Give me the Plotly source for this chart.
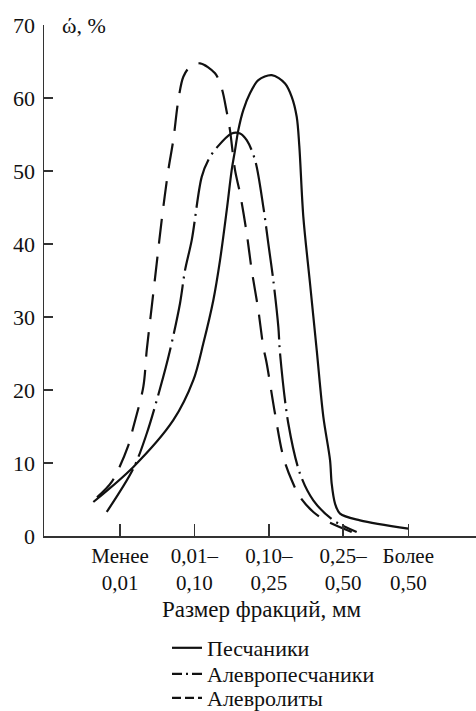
import plotly.graph_objects as go

# Category ticks (fraction size, mm)
tick_pos = [0, 1, 2, 3, 3.875]
tick_labels = ["Менее<br>0,01", "0,01–<br>0,10", "0,10–<br>0,25", "0,25–<br>0,50", "Более<br>0,50"]

# Песчаники (solid)
sand_x = [-0.359, 0.179, 0.716, 0.985, 1.12, 1.254, 1.344, 1.434, 1.501, 1.546, 1.59,
          1.657, 1.747, 1.859, 2.039, 2.218, 2.308, 2.375, 2.41, 2.464, 2.554, 2.644, 2.733,
          2.823, 2.845, 2.89, 2.957, 3.226, 3.875]
sand_y = [4.66, 9.46, 15.86, 21.34, 26.4, 32.3, 37.76, 44.61, 50.12, 52.86, 55.6,
          58.35, 60.64, 62.45, 63.14, 62.0, 60.17, 57.43, 53.4, 43.72, 34.59, 25.45, 16.31,
          10.38, 7.18, 4.44, 3.07, 2.15, 1.01]

# Алевропесчаники (dash-dot)
silt_sand_x = [-0.179, 0.179, 0.359, 0.538, 0.672, 0.806, 0.874, 0.964, 1.098, 1.187, 1.3, 1.501,
               1.613, 1.703, 1.815, 1.926, 1.993, 2.06, 2.128, 2.151, 2.262, 2.419, 2.598, 2.867,
               3.181]
silt_sand_y = [3.29, 9.24, 14.04, 20.2, 25.45, 31.85, 36.42, 40.53, 49.2, 51.5, 53.2, 55.15,
               55.15, 54.23, 51.5, 45.09, 40.08, 35.05, 28.65, 25.0, 15.41, 8.55, 4.89, 2.15,
               0.55]

# Алевролиты (dashed)
silt_x = [-0.309, -0.112, 0.112, 0.179, 0.313, 0.359, 0.426, 0.493, 0.56, 0.649, 0.716, 0.784,
          0.851, 0.941, 1.075, 1.277, 1.367, 1.434, 1.478, 1.546, 1.613, 1.703, 1.77, 1.859,
          1.926, 1.972, 2.083, 2.195, 2.308, 2.419, 2.598, 2.8, 3.114]
silt_y = [5.3, 7.4, 12.43, 14.94, 20.42, 25.45, 31.39, 37.34, 43.27, 50.12, 54.24, 59.72,
          62.91, 64.28, 64.75, 63.38, 61.32, 58.11, 55.6, 50.12, 46.93, 41.45, 36.42, 30.93,
          25.9, 23.63, 16.78, 10.83, 7.63, 5.35, 3.29, 1.92, 0.55]

names = ["Песчаники", "Алевропесчаники", "Алевролиты"]

FONT = "Liberation Serif"
FS = 22
C = "#111111"

fig = go.Figure()

series = [
    (sand_x, sand_y, "solid", "solid"),
    (silt_sand_x, silt_sand_y, "50px,6px,2px,6px", "10px,4px,2px,4px,10px"),
    (silt_x, silt_y, "25px,13px", "9px,4px,9px,4px,4px"),
]
legend_ids = ["legend", "legend2", "legend3"]
for (xs, ys, dash, ldash), nm in zip(series, names):
    fig.add_trace(go.Scatter(x=xs, y=ys, mode="lines", name=nm,
                             showlegend=False, hoverinfo="skip",
                             line=dict(color=C, width=2.2, dash=dash, shape="spline", smoothing=0.9)))
for (xs, ys, dash, ldash), nm, lid in zip(series, names, legend_ids):
    fig.add_trace(go.Scatter(x=[None], y=[None], mode="lines", name=nm, legend=lid,
                             showlegend=True, hoverinfo="skip",
                             line=dict(color=C, width=2.2, dash=ldash)))

L, R, T, B = 44, 0, 25, 175
W, H = 476, 711
pw = W - L - R
ph = H - T - B

def px_x(p):
    return (p - L) / pw

def px_y(p):
    return (H - B - p) / ph

def leg(row_px):
    return dict(x=px_x(167), y=px_y(row_px), xanchor="left", yanchor="middle",
                font=dict(family=FONT, size=FS, color=C),
                bgcolor="rgba(0,0,0,0)", borderwidth=0, tracegroupgap=0,
                itemclick=False, itemdoubleclick=False)

fig.update_layout(
    width=W, height=H,
    margin=dict(l=L, r=R, t=T, b=B, pad=0, autoexpand=False),
    paper_bgcolor="white", plot_bgcolor="white",
    font=dict(family=FONT, size=FS, color=C),
    showlegend=True,
    legend=leg(648), legend2=leg(674), legend3=leg(698),
    xaxis=dict(range=[-1.022, 4.785], tickmode="array", tickvals=tick_pos, ticktext=tick_labels,
               showgrid=False, zeroline=False, showline=True, linecolor="#333", linewidth=1.5,
               ticks="inside", ticklen=12, tickwidth=1.5, tickcolor="#333",
               tickfont=dict(family=FONT, size=21, color=C), fixedrange=True),
    yaxis=dict(range=[0, 70], tickmode="array", tickvals=[0, 10, 20, 30, 40, 50, 60, 70],
               showgrid=False, zeroline=False, showline=True, linecolor="#333", linewidth=1.5,
               ticks="inside", ticklen=9, tickwidth=1.5, tickcolor="#333", ticklabelstandoff=3,
               tickfont=dict(family=FONT, size=FS, color=C), fixedrange=True),
    annotations=[
        dict(text="ώ, %", x=px_x(60), y=70, xref="paper", yref="y", xanchor="left",
             yanchor="middle", showarrow=False, font=dict(family=FONT, size=FS, color=C)),
        dict(text="Размер фракций, мм", x=px_x(262), y=px_y(610), xref="paper", yref="paper",
             xanchor="center", yanchor="middle", showarrow=False,
             font=dict(family=FONT, size=FS + 1, color=C)),
    ],
)

fig.write_html("out.html", config={"displayModeBar": False, "staticPlot": True})
